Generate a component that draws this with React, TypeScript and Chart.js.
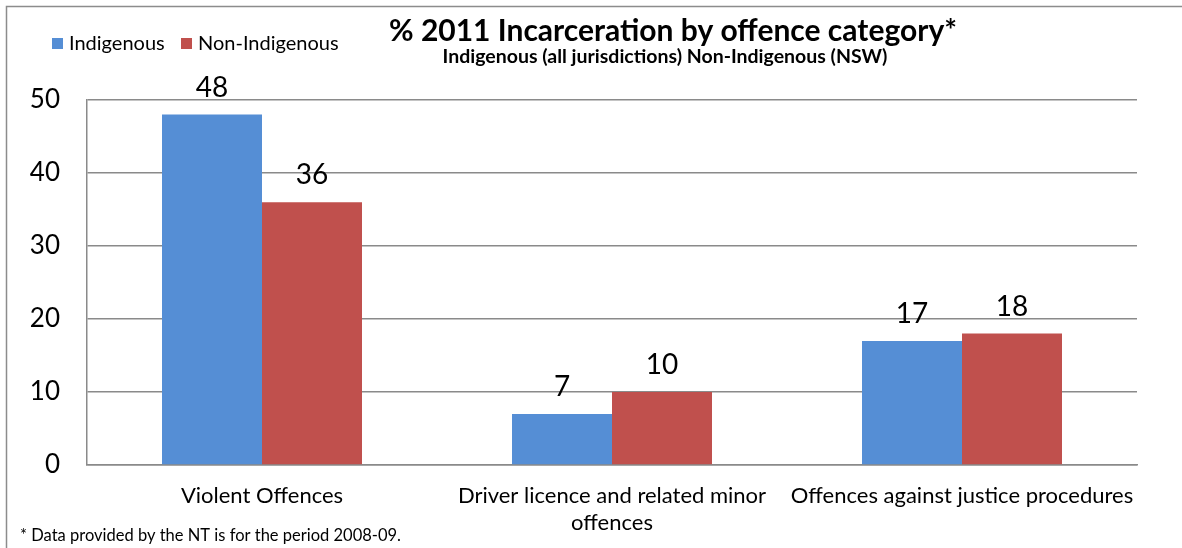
import React, { useEffect, useRef } from "react";
import { Chart, registerables } from "chart.js";

Chart.register(...registerables);

const categories: string[][] = [
  ["Violent Offences"],
  ["Driver licence and related minor", "offences"],
  ["Offences against justice procedures"],
];
const seriesNames = ["Indigenous", "Non-Indigenous"];
const indigenousValues = [48, 7, 17];
const nonIndigenousValues = [36, 10, 18];
const yTickValues = [0, 10, 20, 30, 40, 50];
const titleText = "% 2011 Incarceration by offence category*";
const subtitleText = "Indigenous (all jurisdictions) Non-Indigenous (NSW)";
const footnoteText = "* Data provided by the NT is for the period 2008-09.";

const BLUE = "#558ED5";
const RED = "#C0504D";
const GRID = "#8a8a8a";
const FONT = "Lato, 'Open Sans', sans-serif";

export default function App() {
  const ref = useRef<HTMLCanvasElement | null>(null);

  useEffect(() => {
    document.body.style.margin = "0";
    const canvas = ref.current;
    if (!canvas) return;

    const overlay = {
      id: "overlay",
      afterDraw(chart: any) {
        const ctx = chart.ctx as CanvasRenderingContext2D;
        ctx.save();
        // outer frame (top and left visible)
        ctx.strokeStyle = "#8c8c8c";
        ctx.lineWidth = 1.5;
        ctx.beginPath();
        ctx.moveTo(6.5, 548);
        ctx.lineTo(6.5, 6.5);
        ctx.lineTo(1182, 6.5);
        ctx.stroke();

        // legend
        const colors = [BLUE, RED];
        const legendX = [52, 181];
        ctx.font = `20px ${FONT}`;
        ctx.textBaseline = "middle";
        ctx.textAlign = "left";
        seriesNames.forEach((name, i) => {
          ctx.fillStyle = colors[i];
          ctx.fillRect(legendX[i], 38, 11, 11);
          ctx.fillStyle = "#000";
          ctx.fillText(name, legendX[i] + 17, 44);
        });

        // title
        ctx.textAlign = "center";
        ctx.font = `bold 30px ${FONT}`;
        ctx.fillText(titleText, 673, 31);
        ctx.font = `bold 19.5px ${FONT}`;
        ctx.fillText(subtitleText, 665, 57);

        // footnote
        ctx.textAlign = "left";
        ctx.textBaseline = "alphabetic";
        ctx.font = `16.5px ${FONT}`;
        ctx.fillText(footnoteText, 20, 541);

        // data labels
        ctx.textAlign = "center";
        ctx.font = `28px ${FONT}`;
        chart.data.datasets.forEach((ds: any, di: number) => {
          const meta = chart.getDatasetMeta(di);
          meta.data.forEach((el: any, i: number) => {
            ctx.fillText(String(ds.data[i]), el.x, el.y - 18);
          });
        });
        ctx.restore();
      },
    };

    const chart = new Chart(canvas, {
      type: "bar",
      data: {
        labels: categories,
        datasets: [
          {
            label: seriesNames[0],
            data: indigenousValues,
            backgroundColor: BLUE,
            borderWidth: 0,
            barPercentage: 1,
            categoryPercentage: 200 / 350,
          },
          {
            label: seriesNames[1],
            data: nonIndigenousValues,
            backgroundColor: RED,
            borderWidth: 0,
            barPercentage: 1,
            categoryPercentage: 200 / 350,
          },
        ],
      },
      options: {
        responsive: false,
        animation: false,
        layout: { padding: { top: 100, right: 45, left: 0, bottom: 0 } },
        plugins: {
          legend: { display: false },
          title: { display: false },
          tooltip: { enabled: false },
        },
        scales: {
          x: {
            grid: { display: false, drawTicks: false },
            border: { display: true, color: GRID, width: 1.5 },
            ticks: {
              color: "#000",
              font: { family: FONT, size: 22, lineHeight: 1.25 },
              padding: 17,
              maxRotation: 0,
              autoSkip: false,
            },
            afterFit: (s: any) => {
              s.height = 83;
            },
          },
          y: {
            min: 0,
            max: 50,
            afterBuildTicks: (s: any) => {
              s.ticks = yTickValues.map((v) => ({ value: v }));
            },
            grid: { color: GRID, lineWidth: 1.5, drawTicks: false },
            border: { display: true, color: GRID, width: 1.5 },
            ticks: {
              color: "#000",
              font: { family: FONT, size: 26 },
              padding: 27,
            },
            afterFit: (s: any) => {
              s.width = 87;
            },
          },
        },
      },
      plugins: [overlay],
    });
    return () => chart.destroy();
  }, []);

  return <canvas ref={ref} width={1182} height={548} style={{ display: "block" }} />;
}
